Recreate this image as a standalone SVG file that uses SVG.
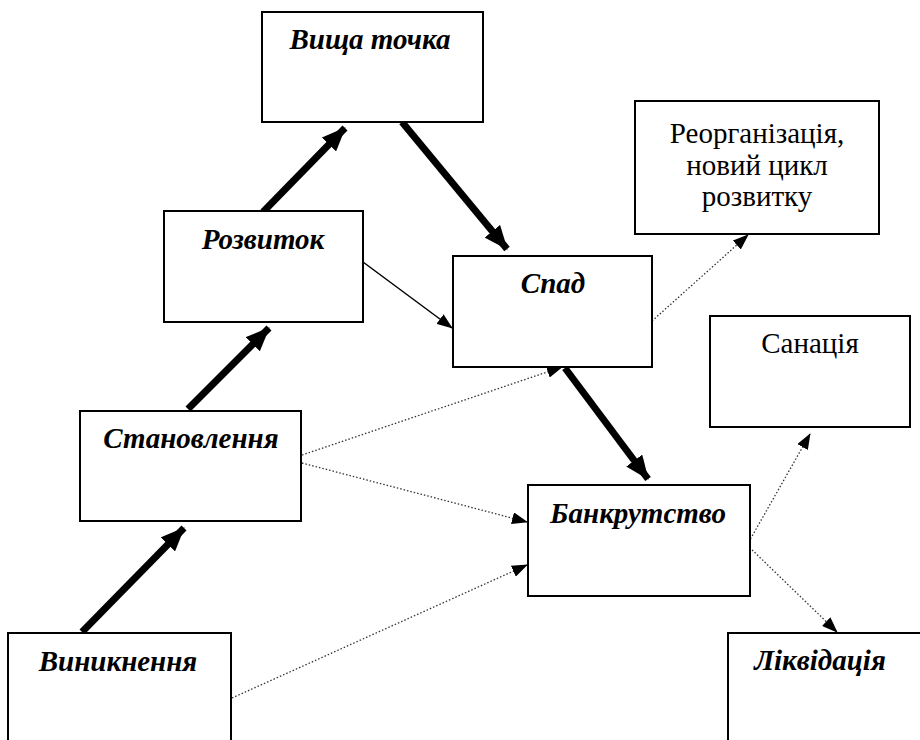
<svg xmlns="http://www.w3.org/2000/svg" width="920" height="740" viewBox="0 0 920 740">
<style>
.box{fill:#fff;stroke:#000;stroke-width:2}
.bi{font-family:'Liberation Serif','Times New Roman',serif;font-weight:bold;font-style:italic;font-size:29px;text-anchor:middle;fill:#000}
.rg{font-family:'Liberation Serif','Times New Roman',serif;font-size:29px;text-anchor:middle;fill:#000}
.thick{stroke:#000;stroke-width:7;fill:none}
.thin{stroke:#000;stroke-width:1.5;fill:none}
.dot{stroke:#333;stroke-width:1.3;stroke-dasharray:1.5 2;fill:none}
</style>
<defs>
<marker id="big" markerUnits="userSpaceOnUse" markerWidth="24" markerHeight="20" refX="23" refY="10" orient="auto">
<path d="M0,0 L24,10 L0,20 Z" fill="#000"/>
</marker>
<marker id="small" markerUnits="userSpaceOnUse" markerWidth="16" markerHeight="12" refX="15" refY="6" orient="auto">
<path d="M0,0 L16,6 L0,12 Z" fill="#000"/>
</marker>
</defs>
<g id="connectors">
<line class="thick" x1="82" y1="632" x2="184" y2="528" marker-end="url(#big)"/>
<line class="thick" x1="188" y1="409" x2="269" y2="328" marker-end="url(#big)"/>
<line class="thick" x1="263" y1="212" x2="345" y2="128" marker-end="url(#big)"/>
<line class="thick" x1="402" y1="122" x2="507" y2="249" marker-end="url(#big)"/>
<line class="thick" x1="565" y1="368" x2="648" y2="479" marker-end="url(#big)"/>
<line class="thin" x1="363" y1="262" x2="452" y2="328" marker-end="url(#small)"/>
<line class="dot" x1="302" y1="455" x2="562" y2="367" marker-end="url(#small)"/>
<line class="dot" x1="302" y1="463" x2="527" y2="522" marker-end="url(#small)"/>
<line class="dot" x1="232" y1="698" x2="527" y2="565" marker-end="url(#small)"/>
<line class="dot" x1="652" y1="321" x2="748" y2="235" marker-end="url(#small)"/>
<line class="dot" x1="747" y1="545" x2="810" y2="434" marker-end="url(#small)"/>
<line class="dot" x1="747" y1="545" x2="837" y2="632" marker-end="url(#small)"/>
</g>
<g id="n-vyshcha">
<rect class="box" x="262" y="12" width="221" height="110"/>
<text class="bi" x="370" y="49">Вища точка</text>
</g>
<g id="n-rozvytok">
<rect class="box" x="164" y="211" width="199" height="111"/>
<text class="bi" x="263" y="249">Розвиток</text>
</g>
<g id="n-spad">
<rect class="box" x="453" y="256" width="199" height="111"/>
<text class="bi" x="553" y="293">Спад</text>
</g>
<g id="n-reorg">
<rect class="box" x="635" y="101" width="244" height="133"/>
<text class="rg" x="757" y="143">Реорганізація,</text>
<text class="rg" x="757" y="175">новий цикл</text>
<text class="rg" x="757" y="206">розвитку</text>
</g>
<g id="n-stanovlennia">
<rect class="box" x="80" y="411" width="221" height="110"/>
<text class="bi" x="191" y="448">Становлення</text>
</g>
<g id="n-sanatsiia">
<rect class="box" x="710" y="316" width="200" height="111"/>
<text class="rg" x="810" y="353">Санація</text>
</g>
<g id="n-bankrutstvo">
<rect class="box" x="528" y="485" width="222" height="111"/>
<text class="bi" x="638" y="523">Банкрутство</text>
</g>
<g id="n-vynyknennia">
<rect class="box" x="8" y="633" width="223" height="130"/>
<text class="bi" x="118" y="671">Виникнення</text>
</g>
<g id="n-likvidatsiia">
<rect class="box" x="728" y="633" width="210" height="130"/>
<text class="bi" x="820" y="670">Ліквідація</text>
</g>
</svg>
